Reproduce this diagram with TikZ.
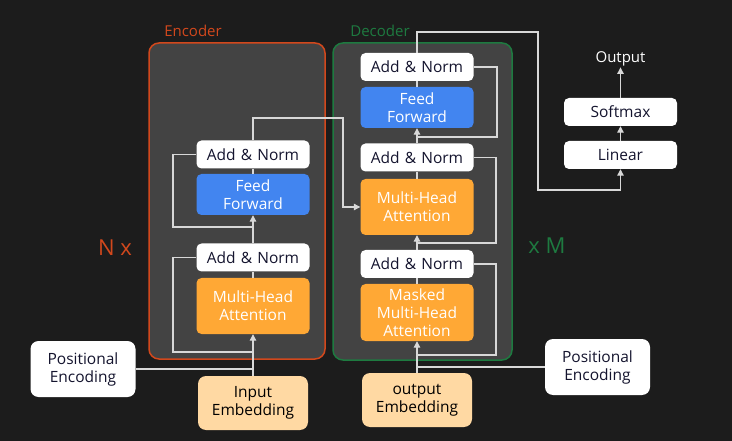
\documentclass[tikz,border=0pt]{standalone}
\usepackage{fontspec}
\setmainfont{Open Sans}
\usetikzlibrary{arrows.meta,positioning}
\definecolor{bg}{HTML}{1C1C1C}
\definecolor{cont}{HTML}{434343}
\definecolor{encC}{HTML}{D2481C}
\definecolor{decC}{HTML}{1E7A40}
\definecolor{blueC}{HTML}{4285F0}
\definecolor{orgC}{HTML}{FFA835}
\definecolor{peachC}{HTML}{FFD9A3}
\definecolor{lineC}{HTML}{D8D8D8}
\definecolor{txtC}{HTML}{14142E}
\tikzset{
  x=1pt,y=-1pt,
  base/.style={rounded corners=5pt, align=center, inner sep=0pt, font=\fontsize{15.5}{18}\selectfont, text width=105pt},
  anbox/.style={base, fill=white, text=txtC, minimum width=113pt, minimum height=28pt},
  ffbox/.style={base, fill=blueC, text=white, minimum width=113pt, minimum height=41pt},
  mhbox/.style={base, fill=orgC, text=white, minimum width=113pt, minimum height=56pt},
  embox/.style={base, rounded corners=8pt, fill=peachC, text=black, minimum width=110pt, minimum height=54pt},
  pebox/.style={base, rounded corners=8pt, fill=white, text=txtC, minimum width=102pt, minimum height=56pt},
  wire/.style={draw=lineC, line width=1.1pt},
  arr/.style={wire, -{Triangle[width=6.5pt,length=6.5pt]}},
}
\begin{document}
\begin{tikzpicture}
\fill[bg] (0,0) rectangle (732,441);
\useasboundingbox (0,0) rectangle (732,441);
% containers
\draw[encC, line width=1.5pt, fill=cont, rounded corners=10pt] (149,43) rectangle (325,359);
\draw[decC, line width=1.5pt, fill=cont, rounded corners=10pt] (333,43) rectangle (512,360);
\node[text=encC, font=\fontsize{15}{18}\selectfont] (enclab) at (193,31) {Encoder};
\node[text=decC, font=\fontsize{15}{18}\selectfont] (declab) at (380,31) {Decoder};
\node[text=encC, font=\fontsize{22}{26}\selectfont] (nx) at (115,248) {N x};
\node[text=decC, font=\fontsize{22}{26}\selectfont] (xm) at (547,246) {x M};
% encoder
\node[anbox] (eAN2) at (253,154.5) {Add \& Norm};
\node[ffbox] (eFF) at (253,194.5) {Feed\\Forward};
\node[anbox] (eAN1) at (253,257.5) {Add \& Norm};
\node[mhbox] (eMHA) at (253,306) {Multi-Head\\Attention};
\node[embox] (eIE) at (253,403) {Input\\Embedding};
\node[pebox] (ePE) at (83,369) {Positional\\Encoding};
% decoder
\node[anbox] (dAN3) at (417,67) {Add \& Norm};
\node[ffbox] (dFF) at (417,107.5) {Feed\\Forward};
\node[anbox] (dAN2) at (417,157.5) {Add \& Norm};
\node[mhbox] (dMHA) at (417,207) {Multi-Head\\Attention};
\node[anbox] (dAN1) at (417,264) {Add \& Norm};
\node[mhbox, minimum height=57pt] (dMMHA) at (417,312.5) {Masked\\Multi-Head\\Attention};
\node[embox] (dOE) at (417,400) {output\\Embedding};
\node[pebox] (dPE) at (597.5,367) {Positional\\Encoding};
% head
\node[anbox] (lin) at (620.5,155) {Linear};
\node[anbox] (soft) at (620.5,112) {Softmax};
\node[text=white, font=\fontsize{15}{18}\selectfont, inner sep=1pt] (out) at (620.5,59) {Output};
% encoder wires
\draw[arr] (eIE.north) -- (eMHA.south);
\draw[wire] (ePE.east) -- (ePE.east -| eIE.north);
\coordinate (er1) at (253,352);
\draw[wire] (er1) -- (173,352) |- (eAN1.west);
\draw[wire] (eMHA.north) -- (eAN1.south);
\draw[arr] (eAN1.north) -- (eFF.south);
\coordinate (er2) at (253,227);
\draw[wire] (er2) -- (173,227) |- (eAN2.west);
\draw[wire] (eFF.north) -- (eAN2.south);
\draw[arr] (eAN2.north) -- (253,118) -- (343,118) |- (dMHA.west);
% decoder wires
\draw[arr] (dOE.north) -- (dMMHA.south);
\draw[wire] (dPE.west) -- (dPE.west -| dOE.north);
\coordinate (dr1) at (417,355);
\draw[wire] (dr1) -- (496,355) |- (dAN1.east);
\draw[wire] (dMMHA.north) -- (dAN1.south);
\draw[arr] (dAN1.north) -- (dMHA.south);
\coordinate (dr2) at (417,243);
\draw[wire] (dr2) -- (496,243) |- (dAN2.east);
\draw[wire] (dMHA.north) -- (dAN2.south);
\draw[arr] (dAN2.north) -- (dFF.south);
\coordinate (dr3) at (417,137);
\draw[wire] (dr3) -- (497,137) |- (dAN3.east);
\draw[wire] (dFF.north) -- (dAN3.south);
\draw[arr] (dAN3.north) -- (417,32) -- (538,32) -- (538,190) -| (lin.south);
\draw[arr] (lin.north) -- (soft.south);
\draw[arr] (soft.north) -- (out.south);
\end{tikzpicture}
\end{document}
